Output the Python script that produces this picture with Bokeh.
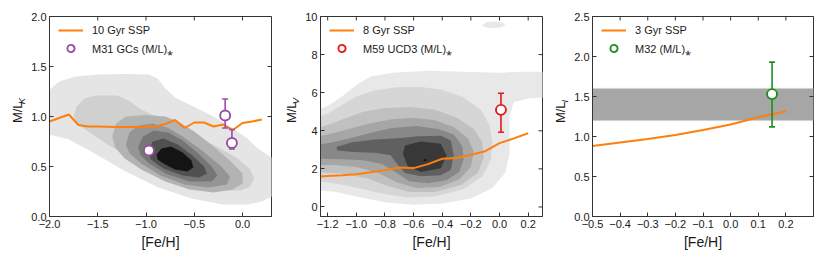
import numpy as np
from bokeh.plotting import figure
from bokeh.models import (Range1d, FixedTicker, CustomJSTickFormatter,
                          Legend, LegendItem, BoxAnnotation)
from bokeh.layouts import row
from bokeh.embed import file_html
from bokeh.resources import INLINE
from bokeh.core.properties import value

# ---------------- data ----------------
# Panel 1: 10 Gyr SSP, M/L_K
p1_ssp_feh = [-2.0, -1.8, -1.7, -1.6, -1.5, -1.4, -1.3, -1.2, -1.1, -1.0, -0.9, -0.8,
              -0.7, -0.6, -0.5, -0.4, -0.3, -0.2, -0.1, 0.0, 0.1, 0.2]
p1_ssp_ml = [0.95, 1.02, 0.915, 0.90, 0.90, 0.898, 0.896, 0.896, 0.896, 0.896, 0.90, 0.925,
             0.965, 0.885, 0.94, 0.94, 0.90, 0.92, 0.865, 0.935, 0.95, 0.97]
p1_gc_feh = [-0.97, -0.18, -0.11]
p1_gc_ml = [0.66, 1.01, 0.735]
p1_gc_lo = [0.66, 0.885, 0.675]
p1_gc_hi = [0.66, 1.175, 0.87]
# density contours (outer -> inner), vertices (Fe/H, M/L)
p1_levels = [
    [(-2.05, 1.22), (-1.9, 1.35), (-1.73, 1.40), (-1.5, 1.42), (-1.2, 1.425), (-0.97, 1.42),
     (-0.88, 1.38), (-0.8, 1.28), (-0.7, 1.19), (-0.53, 1.11), (-0.3, 1.0), (-0.1, 0.88),
     (0.05, 0.78), (0.16, 0.68), (0.35, 0.56), (0.35, 0.22), (0.2, 0.15), (0.05, 0.12),
     (-0.2, 0.12), (-0.53, 0.18), (-0.87, 0.29), (-1.21, 0.45), (-1.55, 0.64), (-1.8, 0.77),
     (-2.05, 0.83)],
    [(-1.75, 1.0), (-1.72, 1.1), (-1.64, 1.18), (-1.52, 1.21), (-1.3, 1.21), (-1.18, 1.16),
     (-1.05, 1.07), (-0.94, 1.02), (-0.75, 0.93), (-0.5, 0.81), (-0.25, 0.69), (-0.05, 0.58),
     (0.08, 0.47), (0.12, 0.38), (0.08, 0.30), (-0.02, 0.26), (-0.2, 0.26), (-0.43, 0.30),
     (-0.7, 0.38), (-0.94, 0.48), (-1.2, 0.61), (-1.4, 0.72), (-1.6, 0.85), (-1.72, 0.93)],
    [(-1.35, 0.80), (-1.31, 0.93), (-1.21, 1.0), (-1.0, 1.015), (-0.8, 1.0), (-0.65, 0.94),
     (-0.5, 0.85), (-0.3, 0.70), (-0.12, 0.55), (0.0, 0.43), (0.0, 0.33), (-0.1, 0.27),
     (-0.3, 0.24), (-0.55, 0.27), (-0.8, 0.35), (-1.05, 0.47), (-1.22, 0.58), (-1.32, 0.69)],
    [(-1.21, 0.72), (-1.17, 0.84), (-1.08, 0.91), (-0.93, 0.93), (-0.78, 0.89), (-0.62, 0.80),
     (-0.42, 0.66), (-0.22, 0.50), (-0.13, 0.40), (-0.16, 0.32), (-0.35, 0.29), (-0.6, 0.32),
     (-0.85, 0.41), (-1.05, 0.53), (-1.17, 0.63)],
    [(-1.08, 0.70), (-1.03, 0.80), (-0.92, 0.86), (-0.77, 0.84), (-0.62, 0.76), (-0.47, 0.64),
     (-0.32, 0.50), (-0.26, 0.41), (-0.32, 0.35), (-0.55, 0.35), (-0.8, 0.43), (-0.98, 0.54),
     (-1.06, 0.62)],
    [(-0.98, 0.66), (-0.93, 0.75), (-0.82, 0.78), (-0.67, 0.72), (-0.52, 0.61), (-0.40, 0.50),
     (-0.37, 0.43), (-0.45, 0.39), (-0.62, 0.41), (-0.82, 0.48), (-0.95, 0.57)],
    [(-0.89, 0.62), (-0.84, 0.68), (-0.74, 0.70), (-0.62, 0.64), (-0.53, 0.56), (-0.51, 0.49),
     (-0.57, 0.45), (-0.70, 0.47), (-0.82, 0.53), (-0.88, 0.57)],
]
p1_colors = ["#e5e5e5", "#d0d0d0", "#b3b3b3", "#959595", "#767676", "#505050", "#141414"]

# Panel 2: 8 Gyr SSP, M/L_V
p2_ssp_feh = [-1.3, -1.2, -1.1, -1.0, -0.9, -0.8, -0.7, -0.6, -0.5, -0.4, -0.3, -0.2,
              -0.1, 0.0, 0.1, 0.2]
p2_ssp_ml = [1.58, 1.62, 1.66, 1.72, 1.82, 1.93, 2.07, 2.04, 2.25, 2.53, 2.57, 2.74,
             2.93, 3.35, 3.60, 3.87]
p2_ucd_feh = [0.01]
p2_ucd_ml = [5.10]
p2_ucd_lo = [3.92]
p2_ucd_hi = [5.97]
p2_levels = [
    [(-1.3, 5.0), (-1.2, 5.3), (-1.1, 5.8), (-1.0, 6.4), (-0.9, 6.85), (-0.75, 7.05),
     (-0.5, 7.15), (-0.25, 7.1), (0.0, 7.05), (0.15, 7.1), (0.32, 7.1), (0.32, 5.75),
     (0.2, 5.7), (0.1, 5.5), (0.07, 4.8), (0.07, 3.8), (0.07, 2.8), (0.04, 1.8),
     (-0.05, 1.0), (-0.2, 0.45), (-0.4, 0.18), (-0.6, 0.12), (-0.8, 0.25), (-1.0, 0.55),
     (-1.15, 0.8), (-1.3, 0.9)],
    [(-1.3, 4.6), (-1.2, 4.9), (-1.1, 5.35), (-1.0, 5.8), (-0.88, 6.1), (-0.72, 6.28),
     (-0.55, 6.3), (-0.4, 6.15), (-0.25, 5.75), (-0.13, 5.1), (-0.07, 4.3), (-0.05, 3.4),
     (-0.06, 2.5), (-0.12, 1.6), (-0.25, 0.95), (-0.45, 0.55), (-0.65, 0.5), (-0.85, 0.75),
     (-1.05, 1.1), (-1.2, 1.3), (-1.3, 1.4)],
    [(-1.3, 4.1), (-1.2, 4.3), (-1.08, 4.65), (-0.95, 5.0), (-0.8, 5.2), (-0.62, 5.25),
     (-0.45, 5.1), (-0.3, 4.7), (-0.18, 4.1), (-0.12, 3.4), (-0.11, 2.6), (-0.15, 1.8),
     (-0.27, 1.15), (-0.45, 0.78), (-0.63, 0.78), (-0.78, 1.1), (-0.92, 1.5), (-1.08, 1.75),
     (-1.3, 1.85)],
    [(-1.3, 3.65), (-1.2, 3.8), (-1.05, 4.1), (-0.9, 4.4), (-0.75, 4.6), (-0.6, 4.68),
     (-0.45, 4.55), (-0.32, 4.2), (-0.22, 3.6), (-0.18, 2.9), (-0.2, 2.1), (-0.28, 1.45),
     (-0.42, 1.05), (-0.58, 1.0), (-0.72, 1.3), (-0.85, 1.8), (-1.0, 2.1), (-1.15, 2.2),
     (-1.3, 2.2)],
    [(-1.3, 3.25), (-1.2, 3.35), (-1.05, 3.6), (-0.9, 3.9), (-0.75, 4.15), (-0.58, 4.25),
     (-0.43, 4.1), (-0.32, 3.8), (-0.26, 3.2), (-0.25, 2.5), (-0.28, 1.85), (-0.37, 1.4),
     (-0.5, 1.25), (-0.63, 1.35), (-0.72, 1.8), (-0.82, 2.25), (-0.95, 2.45), (-1.1, 2.5),
     (-1.3, 2.55)],
    [(-1.14, 3.15), (-1.03, 3.40), (-0.87, 3.54), (-0.71, 3.61), (-0.57, 3.71), (-0.41, 3.74),
     (-0.34, 3.49), (-0.32, 2.72), (-0.34, 1.95), (-0.41, 1.66), (-0.55, 1.61), (-0.66, 1.78),
     (-0.71, 2.21), (-0.76, 2.72), (-0.87, 2.85), (-1.03, 2.89), (-1.13, 2.97)],
    [(-0.66, 3.23), (-0.55, 3.44), (-0.41, 3.32), (-0.37, 2.72), (-0.41, 2.03), (-0.55, 1.83),
     (-0.64, 2.12), (-0.675, 2.80)],
    [(-0.53, 2.50), (-0.51, 2.50), (-0.51, 2.42), (-0.53, 2.42)],
    [(-0.12, 9.55), (-0.09, 9.70), (-0.03, 9.74), (0.02, 9.68), (0.04, 9.55), (0.01, 9.42),
     (-0.05, 9.38), (-0.10, 9.43)],
]
p2_colors = ["#e8e8e8", "#d6d6d6", "#c0c0c0", "#a6a6a6", "#888888", "#606060", "#383838",
             "#111111", "#e8e8e8"]

# Panel 3: 3 Gyr SSP, M/L_I
p3_ssp_feh = [-0.5, -0.4, -0.3, -0.2, -0.1, 0.0, 0.1, 0.2]
p3_ssp_ml = [0.88, 0.925, 0.97, 1.02, 1.08, 1.15, 1.24, 1.315]
p3_m32_feh = [0.15]
p3_m32_ml = [1.53]
p3_m32_lo = [1.12]
p3_m32_hi = [1.93]
p3_band = (1.2, 1.6)

# axes
p1_xr, p1_yr = (-2.0, 0.3), (0.0, 2.0)
p2_xr, p2_yr = (-1.25, 0.3), (-0.5, 10.0)
p3_xr, p3_yr = (-0.5, 0.3), (0.0, 2.5)
p1_xticks = [-2.0, -1.5, -1.0, -0.5, 0.0]
p1_yticks = [0.0, 0.5, 1.0, 1.5, 2.0]
p2_xticks = [-1.2, -1.0, -0.8, -0.6, -0.4, -0.2, 0.0, 0.2]
p2_yticks = [0, 2, 4, 6, 8, 10]
p3_xticks = [-0.5, -0.4, -0.3, -0.2, -0.1, 0.0, 0.1, 0.2]
p3_yticks = [0.0, 0.5, 1.0, 1.5, 2.0, 2.5]

# ---------------- style ----------------
FONT = "Liberation Sans"
TXT = "#1a1a1a"
FRAME = "#333333"
ORANGE = "#ff7f0e"
PURPLE = "#984ea3"
RED = "#e41a1c"
GREEN = "#1f8f1f"
H = 252
ML_SIZE = 13.0      # px, "M/L"
SUB_SIZE = 9.5      # px, italic subscript
SUB_LEN = 0.667 * SUB_SIZE


def fmt(dec):
    return CustomJSTickFormatter(code="""
        const v = Math.abs(tick) < 1e-9 ? 0 : tick;
        const s = Math.abs(v).toFixed(%d);
        return (v < 0 ? '\\u2212' : '') + s;
    """ % dec)


def style_axis(ax, ticks, dec):
    ax.ticker = FixedTicker(ticks=ticks)
    ax.formatter = fmt(dec)
    ax.axis_line_color = FRAME
    ax.major_tick_line_color = FRAME
    ax.major_tick_in = 4
    ax.major_tick_out = 0
    ax.minor_tick_line_color = None
    ax.major_label_standoff = 3
    ax.major_label_text_font = FONT
    ax.major_label_text_color = TXT
    ax.major_label_text_font_size = "11px"


def make_fig(xr, yr, xticks, yticks, xdec, ydec, width, bl, br):
    p = figure(width=width, height=H, x_range=Range1d(*xr), y_range=Range1d(*yr),
               output_backend="svg", toolbar_location=None,
               min_border_left=bl, min_border_right=br, min_border_top=16, min_border_bottom=33)
    p.xgrid.visible = False
    p.ygrid.visible = False
    p.outline_line_color = FRAME
    p.outline_line_width = 1
    style_axis(p.xaxis[0], xticks, xdec)
    style_axis(p.yaxis[0], yticks, ydec)
    p.xaxis.axis_label = "[Fe/H]"
    p.xaxis.axis_label_text_font = FONT
    p.xaxis.axis_label_text_font_style = "normal"
    p.xaxis.axis_label_text_font_size = "14px"
    p.xaxis.axis_label_text_color = TXT
    p.xaxis.axis_label_standoff = 3
    # mirrored inward ticks on top and right edges (half of each dash is clipped by the frame)
    p.scatter(xticks, [yr[1]] * len(xticks), marker="dash", angle=np.pi / 2, size=8,
              line_color=FRAME, line_width=1)
    p.scatter([xr[1]] * len(yticks), yticks, marker="dash", size=8,
              line_color=FRAME, line_width=1)
    return p


def ylabel_fig(width, base, sub):
    """Rotated y label 'M/L' with an italic subscript; base = baseline x of 'M/L'."""
    f = figure(width=width, height=H, x_range=Range1d(0, width), y_range=Range1d(0, H),
               x_axis_type=None, y_axis_type=None, output_backend="svg",
               toolbar_location=None, min_border=0, min_border_left=0, min_border_right=0,
               min_border_top=0, min_border_bottom=0)
    f.grid.visible = False
    f.outline_line_color = None
    ml_len = 1.667 * ML_SIZE
    split = H - (16 + (H - 33)) / 2.0 + (ml_len + SUB_LEN) / 2.0 - SUB_LEN
    # anchor each text at its own centre (baseline "middle" sits ~0.35 em above alphabetic)
    f.text(x=[base - 0.35 * ML_SIZE], y=[split - ml_len / 2.0], text=["M/L"], angle=np.pi / 2,
           text_align="center", text_baseline="middle", text_font=value(FONT),
           text_font_size=value("%.1fpx" % ML_SIZE), text_color=TXT)
    f.text(x=[base + 3 - 0.35 * SUB_SIZE], y=[split + SUB_LEN / 2.0], text=[sub],
           angle=np.pi / 2, text_align="center", text_baseline="middle",
           text_font=value(FONT), text_font_style="italic",
           text_font_size=value("%.1fpx" % SUB_SIZE), text_color=TXT)
    return f


def contours(p, levels, colors):
    xs = [[v[0] for v in lev] for lev in levels]
    ys = [[v[1] for v in lev] for lev in levels]
    p.patches(xs, ys, fill_color=colors, line_color=None)


def errpoints(p, xs, ys, lo, hi, color):
    ex = [x for x, a, b in zip(xs, lo, hi) if a != b]
    el = [a for a, b in zip(lo, hi) if a != b]
    eh = [b for a, b in zip(lo, hi) if a != b]
    if ex:
        p.segment(ex, el, ex, eh, line_color=color, line_width=1.6)
        p.scatter(ex + ex, el + eh, marker="dash", size=6, line_color=color, line_width=1.6)
    return p.scatter(xs, ys, marker="circle", size=10, fill_color="white",
                     line_color=color, line_width=1.9)


def legend(p, items):
    lg = Legend(items=[LegendItem(label=l, renderers=[r]) for l, r in items],
                location=(9, 159), margin=0, padding=0, spacing=0,
                glyph_width=25, glyph_height=18, label_height=18, label_standoff=9,
                label_text_font=FONT, label_text_font_size="11px", label_text_color=TXT,
                background_fill_alpha=0, border_line_color=None)
    p.add_layout(lg)


# ---------------- panel 1 ----------------
lab1 = ylabel_fig(28, 21.5, "K")
p1 = make_fig(p1_xr, p1_yr, p1_xticks, p1_yticks, 1, 1, 244, 19, 1)
contours(p1, p1_levels, p1_colors)
l1 = p1.line(p1_ssp_feh, p1_ssp_ml, line_color=ORANGE, line_width=2)
s1 = errpoints(p1, p1_gc_feh, p1_gc_ml, p1_gc_lo, p1_gc_hi, PURPLE)
legend(p1, [("10 Gyr SSP", l1), ("M31 GCs (M/L)\u204e", s1)])

# ---------------- panel 2 ----------------
lab2 = ylabel_fig(30, 23.5, "V")
p2 = make_fig(p2_xr, p2_yr, p2_xticks, p2_yticks, 1, 0, 241, 17, 1)
contours(p2, p2_levels, p2_colors)
l2 = p2.line(p2_ssp_feh, p2_ssp_ml, line_color=ORANGE, line_width=2)
s2 = errpoints(p2, p2_ucd_feh, p2_ucd_ml, p2_ucd_lo, p2_ucd_hi, RED)
legend(p2, [("8 Gyr SSP", l2), ("M59 UCD3 (M/L)\u204e", s2)])

# ---------------- panel 3 ----------------
lab3 = ylabel_fig(28, 21.5, "I")
p3 = make_fig(p3_xr, p3_yr, p3_xticks, p3_yticks, 1, 1, 259, 19, 17)
p3.add_layout(BoxAnnotation(bottom=p3_band[0], top=p3_band[1], fill_color="#a6a6a6",
                            fill_alpha=1.0, line_color="#cccccc", line_width=1.5,
                            level="underlay"))
l3 = p3.line(p3_ssp_feh, p3_ssp_ml, line_color=ORANGE, line_width=2)
s3 = errpoints(p3, p3_m32_feh, p3_m32_ml, p3_m32_lo, p3_m32_hi, GREEN)
legend(p3, [("3 Gyr SSP", l3), ("M32 (M/L)\u204e", s3)])

layout = row(lab1, p1, lab2, p2, lab3, p3)
open("out.html", "w").write(file_html(layout, INLINE))
